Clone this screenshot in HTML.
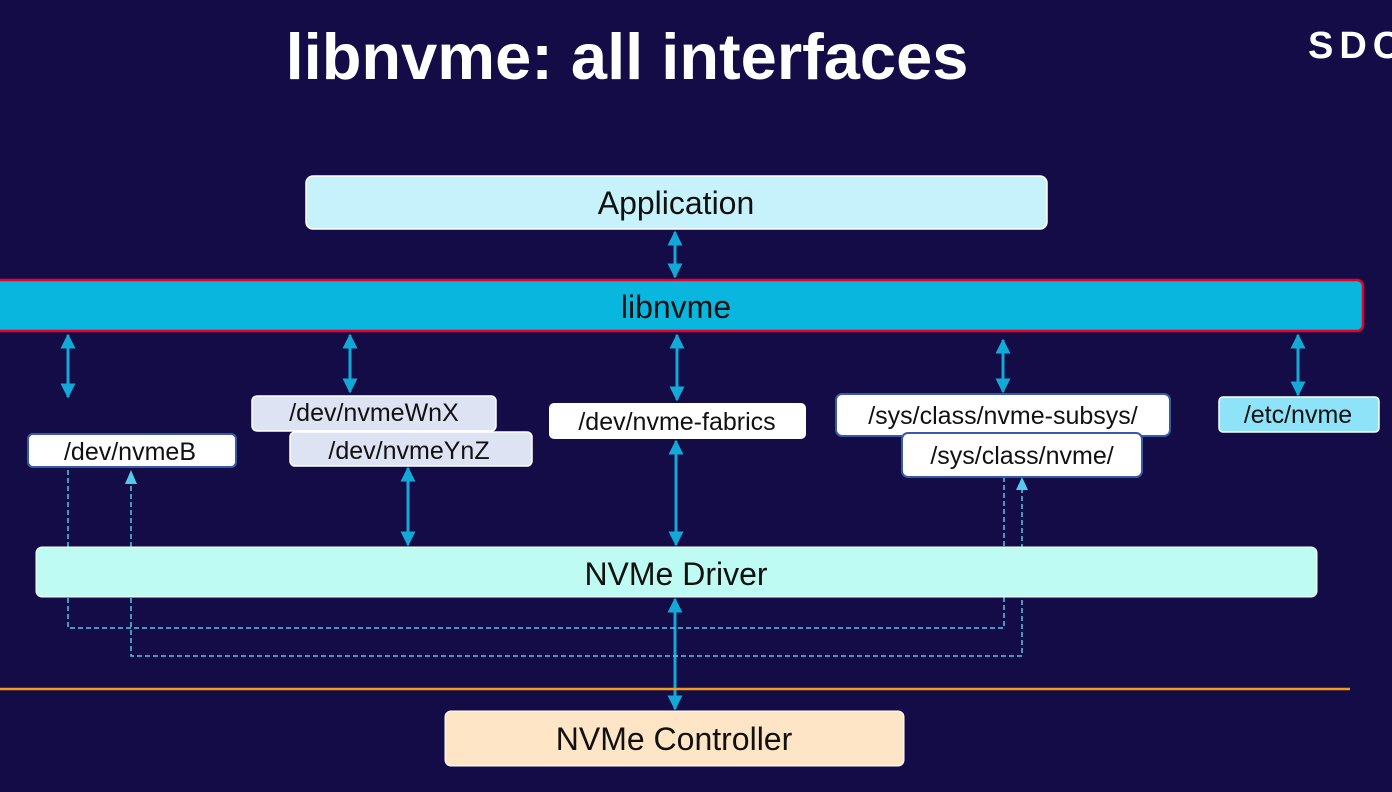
<!DOCTYPE html>
<html><head><meta charset="utf-8"><style>
html,body{margin:0;padding:0;background:#130c47;}
svg{display:block;}
text{font-family:"Liberation Sans",sans-serif;}
</style></head><body>
<svg width="1392" height="792" viewBox="0 0 1392 792" xmlns="http://www.w3.org/2000/svg">
<defs>
<marker id="a" viewBox="0 0 10 10" refX="9" refY="5" markerWidth="5" markerHeight="5" orient="auto-start-reverse"><path d="M0,0L10,5L0,10z" fill="#12a9d6"/></marker>
</defs>
<rect width="1392" height="792" fill="#130c47"/>
<text x="627" y="79" font-size="65" font-weight="bold" fill="#fff" text-anchor="middle">libnvme: all interfaces</text>
<text x="1308" y="58" font-size="38" font-weight="bold" fill="#fff" letter-spacing="6">SDC</text>

<rect x="306" y="176" width="741" height="53" rx="7" fill="#c7f1fb" stroke="#fff" stroke-width="1.5"/>
<text x="676" y="214" font-size="32" text-anchor="middle" fill="#111">Application</text>

<rect x="-6" y="280" width="1369" height="51" rx="6" fill="#08b6de" stroke="#e6002a" stroke-width="2.5"/>
<text x="676" y="318" font-size="32" text-anchor="middle" fill="#111">libnvme</text>

<g stroke="#12a9d6" stroke-width="3" marker-start="url(#a)" marker-end="url(#a)">
<line x1="675" y1="232" x2="675" y2="277"/>
<line x1="68" y1="335" x2="68" y2="397"/>
<line x1="350" y1="335" x2="350" y2="392"/>
<line x1="677" y1="335" x2="677" y2="400"/>
<line x1="1003" y1="340" x2="1003" y2="392"/>
<line x1="1298" y1="335" x2="1298" y2="395"/>
<line x1="408" y1="468" x2="408" y2="545"/>
<line x1="676" y1="441" x2="676" y2="545"/>
<line x1="675" y1="599" x2="675" y2="709"/>
</g>

<g fill="none" stroke="#56c8ea" stroke-width="1.5" stroke-dasharray="5,3">
<polyline points="68,470 68,628 1004,628 1004,478"/>
<polyline points="131,478 131,656 1022,656 1022,482"/>
</g>
<path d="M125,484 L131,470 L137,484z M1016,490 L1022,477 L1028,490z" fill="#56c8ea"/>

<rect x="252" y="396" width="244" height="35" rx="5" fill="#dde3f3" stroke="#fff" stroke-width="1.5"/>
<text x="374" y="421" font-size="25" text-anchor="middle" fill="#111">/dev/nvmeWnX</text>
<rect x="290" y="432" width="242" height="34" rx="5" fill="#dde3f3" stroke="#fff" stroke-width="1.5"/>
<text x="409" y="459" font-size="25" text-anchor="middle" fill="#111">/dev/nvmeYnZ</text>

<rect x="28" y="434" width="208" height="33" rx="5" fill="#fff" stroke="#3a5aa8" stroke-width="2"/>
<text x="130" y="460" font-size="25" text-anchor="middle" fill="#111">/dev/nvmeB</text>

<rect x="549" y="403" width="257" height="36" rx="5" fill="#fff"/>
<text x="677" y="430" font-size="25" text-anchor="middle" fill="#111">/dev/nvme-fabrics</text>

<rect x="836" y="394" width="334" height="42" rx="6" fill="#fff" stroke="#3a5aa8" stroke-width="2"/>
<text x="1003" y="424" font-size="25" text-anchor="middle" fill="#111">/sys/class/nvme-subsys/</text>
<rect x="902" y="433" width="240" height="44" rx="6" fill="#fff" stroke="#3a5aa8" stroke-width="2"/>
<text x="1022" y="464" font-size="25" text-anchor="middle" fill="#111">/sys/class/nvme/</text>

<rect x="1219" y="397" width="160" height="35" rx="4" fill="#8ee3f8" stroke="#fff" stroke-width="1.5"/>
<text x="1298" y="423" font-size="25" text-anchor="middle" fill="#111">/etc/nvme</text>

<rect x="36" y="547" width="1281" height="50" rx="6" fill="#bdfbf3" stroke="#fff" stroke-width="1"/>
<text x="676" y="585" font-size="32" text-anchor="middle" fill="#111">NVMe Driver</text>

<line x1="0" y1="689" x2="1350" y2="689" stroke="#f39a1a" stroke-width="2.5"/>

<rect x="445" y="711" width="459" height="55" rx="6" fill="#fde5c6" stroke="#fff" stroke-width="1"/>
<text x="674" y="750" font-size="32" text-anchor="middle" fill="#111">NVMe Controller</text>
</svg>
</body></html>
